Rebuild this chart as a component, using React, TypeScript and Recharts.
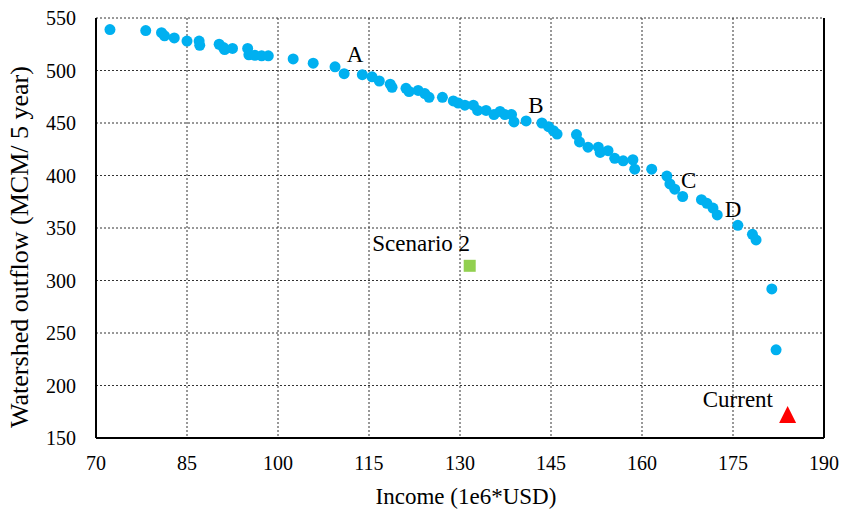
import { ScatterChart, Scatter, XAxis, YAxis, CartesianGrid, ReferenceLine } from 'recharts'

const incomeTicks = [70, 85, 100, 115, 130, 145, 160, 175, 190]
const outflowTicks = [150, 200, 250, 300, 350, 400, 450, 500, 550]

// pareto front (income 1e6 USD, outflow MCM / 5 year)
const paretoIncome = [
  72.3, 78.2, 80.8, 81.3, 82.9, 85.0, 87.0, 87.1, 90.3, 91.0, 91.2, 92.5, 95.0, 95.2, 96.2, 97.3, 98.4,
  102.5, 105.8, 109.4, 110.9, 113.9, 115.5, 116.7, 118.5, 118.8, 121.1, 121.6, 123.1, 124.2, 124.9,
  127.1, 128.9, 129.7, 130.8, 132.2, 132.9, 134.3, 135.6, 136.6, 137.4, 138.5, 138.9, 140.9, 143.5,
  144.6, 145.4, 146.0, 149.2, 149.7, 151.1, 152.8, 153.1, 154.4, 155.5, 156.9, 158.5, 158.8, 161.6,
  164.1, 164.6, 165.4, 166.7, 169.8, 170.7, 171.7, 172.4, 175.8, 178.2, 178.8, 181.4, 182.1,
]
const paretoOutflow = [
  539, 538, 536, 533, 531, 528, 528, 524, 525, 522, 520, 521, 521, 515, 514.5, 514, 514,
  511, 507, 503.5, 497, 496, 494, 490, 487, 484, 483, 480, 481, 478, 474.5,
  474.5, 471, 469, 467, 467, 462, 462, 458, 461, 458, 458, 451, 452, 450,
  446.5, 442.7, 439.5, 439, 432, 427, 427, 422, 423.6, 416.4, 414, 415, 406, 406,
  399.5, 392, 387, 380, 377, 373.5, 369, 362.4, 352.6, 344, 338.6, 292, 234,
]

const scenario2 = [{ income: 131.6, outflow: 314 }]
const current = [{ income: 184, outflow: 172 }]

const noteText = ['A', 'B', 'C', 'D', 'Scenario 2', 'Current']
const noteIncome = [112.7, 142.5, 167.7, 175.0, 123.6, 175.8]
const noteOutflow = [514.8, 467.1, 394.8, 368, 334.8, 187.1]

const pareto = paretoIncome.map((income, i) => ({ income, outflow: paretoOutflow[i] }))
const notes = noteText.map((text, i) => ({ income: noteIncome[i], outflow: noteOutflow[i], text }))

const FONT = '"Liberation Serif", serif'

const Dot = (p: any) => <circle cx={p.cx} cy={p.cy} r={5.5} fill="#00B0F0" />
const Square = (p: any) => <rect x={p.cx - 6} y={p.cy - 6} width={12} height={12} fill="#92D050" />
const Triangle = (p: any) => (
  <polygon
    points={`${p.cx},${p.cy - 9} ${p.cx + 8.5},${p.cy + 8} ${p.cx - 8.5},${p.cy + 8}`}
    fill="#FF0000"
  />
)
const Note = (p: any) => (
  <text
    x={p.cx}
    y={p.cy}
    textAnchor="middle"
    dominantBaseline="central"
    fontFamily={FONT}
    fontSize={23}
    fill="#000"
  >
    {p.payload.text}
  </text>
)

export default function App() {
  return (
    <div style={{ position: 'absolute', left: 0, top: 0 }}>
      <ScatterChart width={844} height={514} margin={{ top: 18, right: 20, bottom: 0, left: 0 }}>
        <CartesianGrid stroke="#333" strokeDasharray="2 2" />
        <XAxis
          type="number"
          dataKey="income"
          domain={[70, 190]}
          ticks={incomeTicks}
          height={76}
          tickLine={false}
          tickSize={0}
          tickMargin={18}
          axisLine={{ stroke: '#000', strokeWidth: 2 }}
          tick={{ fill: '#000', fontSize: 20, fontFamily: FONT }}
          label={{
            value: 'Income (1e6*USD)',
            position: 'insideBottom',
            offset: 10,
            dx: 6,
            fill: '#000',
            fontSize: 23,
            fontFamily: FONT,
          }}
        />
        <YAxis
          type="number"
          dataKey="outflow"
          domain={[150, 550]}
          ticks={outflowTicks}
          width={96}
          tickLine={false}
          tickSize={0}
          tickMargin={20}
          axisLine={{ stroke: '#000', strokeWidth: 2 }}
          tick={{ fill: '#000', fontSize: 20, fontFamily: FONT }}
          label={{
            value: 'Watershed outflow (MCM/ 5 year)',
            position: 'center',
            angle: -90,
            dx: -29,
            dy: 19,
            fill: '#000',
            fontSize: 26,
            fontFamily: FONT,
          }}
        />
        <ReferenceLine x={190} stroke="#000" strokeWidth={2} />
        <Scatter data={pareto} shape={Dot} isAnimationActive={false} />
        <Scatter data={scenario2} shape={Square} isAnimationActive={false} />
        <Scatter data={current} shape={Triangle} isAnimationActive={false} />
        <Scatter data={notes} shape={Note} isAnimationActive={false} />
      </ScatterChart>
    </div>
  )
}
